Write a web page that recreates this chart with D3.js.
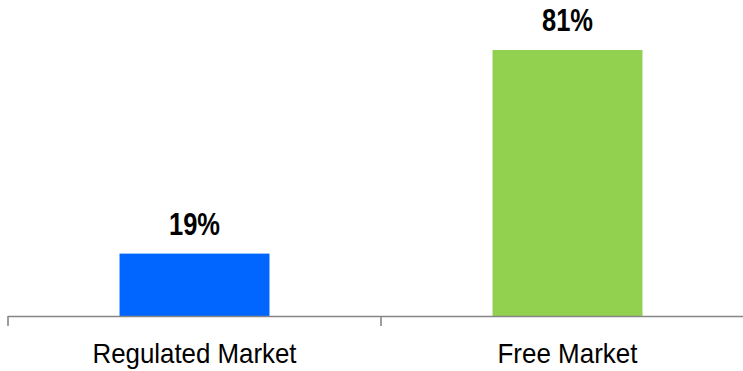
<!DOCTYPE html>
<html>
<head>
<meta charset="utf-8">
<script src="https://cdn.jsdelivr.net/npm/d3@7"></script>
<style>
  html, body { margin: 0; padding: 0; background: #fff; }
  svg { display: block; }
  text { font-family: "Liberation Sans", Arial, sans-serif; fill: #000; }
</style>
</head>
<body>
<svg id="chart" width="743" height="371"></svg>
<script>
// Market share by market type
const categories = ["Regulated Market", "Free Market"];
const shares = [19, 81];
const barColors = ["#0066FF", "#92D050"];
const valueLabels = ["19%", "81%"];

const width = 743, height = 371;
const axisY = 316;

const svg = d3.select("#chart");

const x = d3.scaleBand()
  .domain(categories)
  .range([8, 754])
  .paddingInner(0.598)
  .paddingOuter(0.299);

const y = d3.scaleLinear()
  .domain([0, 90])
  .range([axisY, axisY - 90 * 3.284]);

// bars
svg.selectAll("rect.bar")
  .data(categories)
  .join("rect")
  .attr("class", "bar")
  .attr("x", d => x(d))
  .attr("width", x.bandwidth())
  .attr("y", (d, i) => y(shares[i]))
  .attr("height", (d, i) => y(0) - y(shares[i]))
  .attr("fill", (d, i) => barColors[i]);

// value labels
svg.selectAll("text.value")
  .data(categories)
  .join("text")
  .attr("class", "value")
  .attr("x", d => x(d) + x.bandwidth() / 2)
  .attr("y", (d, i) => y(shares[i]) - 19)
  .attr("text-anchor", "middle")
  .attr("font-size", 31)
  .attr("font-weight", "bold")
  .attr("textLength", 51)
  .attr("lengthAdjust", "spacingAndGlyphs")
  .text((d, i) => valueLabels[i]);

// category axis: baseline and tick marks at band boundaries
const [r0, r1] = x.range();
svg.append("line")
  .attr("x1", r0).attr("x2", width)
  .attr("y1", axisY + 0.5).attr("y2", axisY + 0.5)
  .attr("stroke", "#868686").attr("stroke-width", 1.6);

const boundaries = d3.range(categories.length + 1).map(i => r0 + i * x.step());
svg.selectAll("line.tick")
  .data(boundaries)
  .join("line")
  .attr("class", "tick")
  .attr("x1", d => d).attr("x2", d => d)
  .attr("y1", axisY).attr("y2", axisY + 10)
  .attr("stroke", "#868686").attr("stroke-width", 1.6);

// category labels
const catWidths = { "Regulated Market": 204, "Free Market": 140 };
svg.selectAll("text.cat")
  .data(categories)
  .join("text")
  .attr("class", "cat")
  .attr("x", d => x(d) + x.bandwidth() / 2)
  .attr("y", 363)
  .attr("text-anchor", "middle")
  .attr("font-size", 28.5)
  .attr("textLength", d => catWidths[d])
  .attr("lengthAdjust", "spacingAndGlyphs")
  .text(d => d);
</script>
</body>
</html>
